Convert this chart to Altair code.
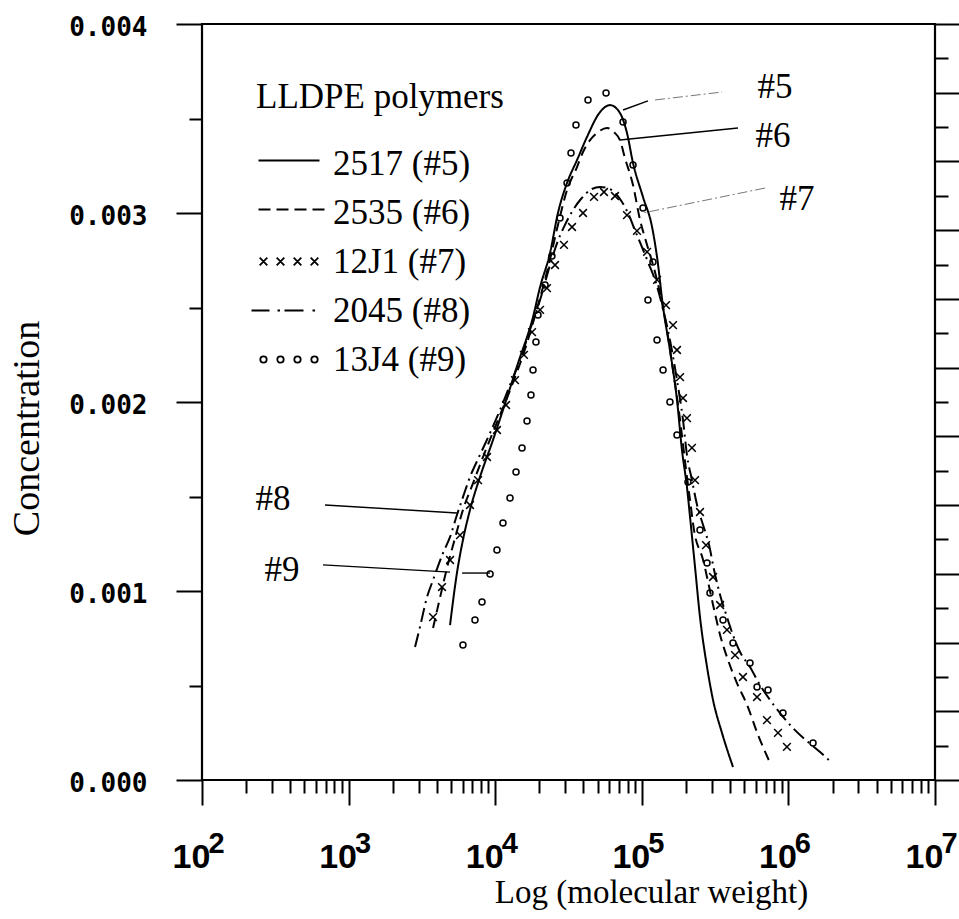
import altair as alt
import pandas as pd

# ---------------- data ----------------
# x values are log10(molecular weight); y values are concentration
series_names = ["2517 (#5)", "2535 (#6)", "12J1 (#7)", "2045 (#8)", "13J4 (#9)"]

s5_log = [3.692, 3.739, 3.780, 3.828, 3.896, 3.985, 4.053, 4.156, 4.258, 4.306,
          4.374, 4.428, 4.490, 4.558, 4.626, 4.715, 4.783, 4.851, 4.899, 4.940,
          5.008, 5.070, 5.104, 5.145, 5.192, 5.240, 5.274, 5.308, 5.329, 5.363,
          5.397, 5.445, 5.486, 5.547, 5.622]
s5_conc = [0.000820, 0.001095, 0.001270, 0.001429, 0.001603, 0.001799, 0.001958, 0.002206, 0.002450, 0.002608,
           0.002788, 0.003000, 0.003159, 0.003280, 0.003402, 0.003534, 0.003571, 0.003529, 0.003423, 0.003265,
           0.003085, 0.002926, 0.002767, 0.002503, 0.002275, 0.002011, 0.001746, 0.001550, 0.001392, 0.001127,
           0.000862, 0.000598, 0.000423, 0.000249, 0.000069]

s6_log = [3.576, 3.623, 3.671, 3.726, 3.780, 3.849, 3.930, 4.019, 4.115, 4.217,
          4.292, 4.360, 4.428, 4.490, 4.558, 4.599, 4.647, 4.694, 4.763, 4.817,
          4.851, 4.885, 4.940, 4.988, 5.036, 5.090, 5.158, 5.213, 5.261, 5.302,
          5.329, 5.356, 5.418, 5.479, 5.534, 5.588, 5.649, 5.718, 5.793, 5.875]
s6_conc = [0.000804, 0.000963, 0.001122, 0.001280, 0.001429, 0.001571, 0.001735, 0.001905, 0.002090, 0.002312,
           0.002513, 0.002709, 0.002937, 0.003122, 0.003243, 0.003323, 0.003386, 0.003423, 0.003450, 0.003423,
           0.003386, 0.003291, 0.003148, 0.002963, 0.002831, 0.002688, 0.002444, 0.002169, 0.001905, 0.001640,
           0.001481, 0.001323, 0.001164, 0.000952, 0.000767, 0.000635, 0.000513, 0.000397, 0.000238, 0.000090]

s7_log = [3.576, 3.637, 3.692, 3.760, 3.828, 3.883, 3.944, 4.012, 4.074, 4.135,
          4.196, 4.251, 4.306, 4.353, 4.408, 4.469, 4.524, 4.599, 4.674, 4.742,
          4.817, 4.899, 4.967, 5.036, 5.104, 5.165, 5.213, 5.240, 5.261, 5.281,
          5.308, 5.342, 5.363, 5.397, 5.438, 5.486, 5.534, 5.581, 5.636, 5.690,
          5.786, 5.854, 5.929, 5.990]
s7_conc = [0.000862, 0.001021, 0.001164, 0.001296, 0.001455, 0.001587, 0.001709, 0.001852, 0.001984, 0.002116,
           0.002249, 0.002370, 0.002487, 0.002603, 0.002725, 0.002831, 0.002926, 0.003000, 0.003085, 0.003111,
           0.003090, 0.002989, 0.002905, 0.002794, 0.002646, 0.002513, 0.002407, 0.002275, 0.002132, 0.002021,
           0.001915, 0.001757, 0.001587, 0.001418, 0.001243, 0.001074, 0.000926, 0.000794, 0.000661, 0.000545,
           0.000439, 0.000317, 0.000249, 0.000175]

s8_log = [3.453, 3.487, 3.535, 3.576, 3.644, 3.692, 3.739, 3.780, 3.828, 3.896,
          3.965, 4.033, 4.101, 4.169, 4.237, 4.306, 4.374, 4.422, 4.476, 4.531,
          4.585, 4.660, 4.715, 4.769, 4.817, 4.865, 4.906, 4.947, 4.995, 5.042,
          5.090, 5.138, 5.192, 5.240, 5.281, 5.308, 5.342, 5.377, 5.418, 5.459,
          5.493, 5.534, 5.581, 5.622, 5.670, 5.738, 5.806, 5.875, 5.943, 6.031,
          6.134, 6.216, 6.297]
s8_conc = [0.000704, 0.000810, 0.000968, 0.001058, 0.001201, 0.001286, 0.001402, 0.001497, 0.001603, 0.001720,
           0.001836, 0.001958, 0.002090, 0.002222, 0.002381, 0.002540, 0.002725, 0.002841, 0.002937, 0.003016,
           0.003074, 0.003127, 0.003138, 0.003132, 0.003106, 0.003058, 0.003000, 0.002921, 0.002831, 0.002741,
           0.002646, 0.002513, 0.002328, 0.002116, 0.001905, 0.001720, 0.001587, 0.001455, 0.001349, 0.001243,
           0.001111, 0.000979, 0.000862, 0.000767, 0.000677, 0.000598, 0.000503, 0.000423, 0.000354, 0.000275,
           0.000201, 0.000148, 0.000090]

s9_log = [3.780, 3.862, 3.910, 3.965, 4.012, 4.053, 4.101, 4.142, 4.183, 4.217,
          4.244, 4.258, 4.278, 4.292, 4.340, 4.387, 4.442, 4.490, 4.517, 4.551,
          4.633, 4.756, 4.872, 4.940, 5.008, 5.076, 5.042, 5.104, 5.145, 5.192,
          5.240, 5.315, 5.397, 5.445, 5.465, 5.554, 5.622, 5.738, 5.786, 5.861,
          5.963, 6.168]
s9_conc = [0.000714, 0.000847, 0.000942, 0.001090, 0.001217, 0.001360, 0.001492, 0.001630, 0.001757, 0.001899,
           0.002037, 0.002169, 0.002317, 0.002460, 0.002619, 0.002772, 0.002974, 0.003159, 0.003317, 0.003466,
           0.003598, 0.003635, 0.003481, 0.003254, 0.003026, 0.002741, 0.002540, 0.002328, 0.002169, 0.002000,
           0.001825, 0.001577, 0.001323, 0.001148, 0.000989, 0.000847, 0.000725, 0.000619, 0.000492, 0.000476,
           0.000354, 0.000196]

# curve labels and their leader lines
ann_text = ["#5", "#6", "#7", "#8", "#9"]
ann_log = [5.909, 5.895, 6.059, 2.484, 2.546]
ann_conc = [0.003667, 0.003407, 0.003074, 0.001487, 0.001111]

lead_from_log = [4.872, 5.656, 2.839, 2.825, 3.965]
lead_from_conc = [0.003545, 0.003450, 0.001455, 0.001138, 0.001095]
lead_to_log = [5.042, 4.851, 3.739, 3.692, 3.774]
lead_to_conc = [0.003593, 0.003386, 0.001413, 0.001100, 0.001095]

faint_from_log = [5.090, 5.840]
faint_from_conc = [0.003598, 0.003132]
faint_to_log = [5.547, 5.008]
faint_to_conc = [0.003640, 0.003000]

x_major = [1e2, 1e3, 1e4, 1e5, 1e6, 1e7]
y_major = [0.0, 0.001, 0.002, 0.003, 0.004]
y_minor = [0.0005, 0.0015, 0.0025, 0.0035]

# ---------------- helpers ----------------
SERIF = "Liberation Serif, Times New Roman, serif"
NARROW = "Liberation Sans Narrow, Liberation Sans, Arial, sans-serif"
MONO = "DejaVu Sans Mono, monospace"


def frame(name, logs, concs):
    return pd.DataFrame({"series": name, "mw": [10 ** v for v in logs], "conc": concs})


x_minor = [m * d for d in x_major[:-1] for m in range(2, 10)]
right_vals = [k * 0.004 / 22 for k in range(23)]
right_long = right_vals[0::2]
right_short = right_vals[1::2]

xscale = alt.Scale(type="log", domain=[1e2, 1e7], nice=False)
yscale = alt.Scale(domain=[0, 0.004], nice=False, zero=False)

common_axis = dict(domain=False, grid=False, tickColor="black", labelColor="black",
                   labelFlush=False, labelOverlap=False, labelBound=False)

x_main_axis = alt.Axis(orient="bottom", values=x_major, tickSize=25, tickWidth=2,
                       labelExpr="'10'", labelFont=NARROW, labelFontWeight="bold",
                       labelFontSize=34, labelBaseline="alphabetic", labelAlign="center",
                       labelPadding=62, labelOffset=-11,
                       title="Log (molecular weight)", titleFont=SERIF, titleFontSize=33,
                       titleFontWeight="normal", titleColor="black", titleX=449, titleY=122,
                       titleAlign="center", titleBaseline="alphabetic", **common_axis)
x_minor_axis = alt.Axis(orient="bottom", values=x_minor, tickSize=13, tickWidth=2,
                        labels=False, title=None, **common_axis)
x_exp_axis = alt.Axis(orient="bottom", values=x_major, tickSize=25, tickOpacity=0,
                      labelExpr="'' + round(log(datum.value) / LN10)", labelFont=NARROW,
                      labelFontWeight="bold", labelFontSize=29, labelBaseline="alphabetic",
                      labelAlign="center", labelPadding=47, labelOffset=14, title=None,
                      **common_axis)

y_main_axis = alt.Axis(orient="left", values=y_major, format=".3f", tickSize=26, tickWidth=2,
                       labelFont=MONO, labelFontWeight="bold", labelFontSize=26,
                       labelPadding=29, labelBaseline="middle", labelOffset=3,
                       title="Concentration", titleFont=SERIF, titleFontSize=38,
                       titleFontWeight="normal", titleColor="black", titleAngle=270,
                       titleX=-164, titleY=404, titleAlign="center",
                       titleBaseline="alphabetic", **common_axis)
y_minor_axis = alt.Axis(orient="left", values=y_minor, tickSize=13, tickWidth=2,
                        labels=False, title=None, **common_axis)
y_right_short = alt.Axis(orient="right", values=right_short, tickSize=13, tickWidth=2,
                         labels=False, title=None, **common_axis)
y_right_long = alt.Axis(orient="right", values=right_long, tickSize=24, tickWidth=2,
                        labels=False, title=None, **common_axis)

# ---------------- layers ----------------
lines_df = pd.concat([frame("2517 (#5)", s5_log, s5_conc),
                      frame("2535 (#6)", s6_log, s6_conc),
                      frame("2045 (#8)", s8_log, s8_conc)])

line_layer = alt.Chart(lines_df).mark_line(color="black", strokeWidth=2,
                                           interpolate="monotone").encode(
    x=alt.X("mw:Q", scale=xscale, axis=x_main_axis),
    y=alt.Y("conc:Q", scale=yscale, axis=y_main_axis),
    strokeDash=alt.StrokeDash("series:N", legend=None,
                              scale=alt.Scale(domain=["2517 (#5)", "2535 (#6)", "2045 (#8)"],
                                              range=[[1, 0], [10, 6], [14, 5, 2, 5]])),
    detail="series:N",
)

CROSS = "M-1,-1L1,1M-1,1L1,-1"
cross_layer = alt.Chart(frame("12J1 (#7)", s7_log, s7_conc)).mark_point(
    shape=CROSS, size=60, filled=False, color="black", strokeWidth=1.5, opacity=1).encode(
    x=alt.X("mw:Q", scale=xscale, axis=x_minor_axis),
    y=alt.Y("conc:Q", scale=yscale, axis=y_minor_axis),
)

circle_layer = alt.Chart(frame("13J4 (#9)", s9_log, s9_conc)).mark_point(
    shape="circle", size=36, filled=False, color="black", strokeWidth=1.5, opacity=1).encode(
    x=alt.X("mw:Q", scale=xscale, axis=x_exp_axis),
    y=alt.Y("conc:Q", scale=yscale, axis=y_right_short),
)

ann_df = pd.DataFrame({"label": ann_text, "mw": [10 ** v for v in ann_log], "conc": ann_conc})
text_layer = alt.Chart(ann_df).mark_text(font=SERIF, fontSize=35, color="black",
                                          align="center", baseline="middle").encode(
    x=alt.X("mw:Q", scale=xscale, axis=None),
    y=alt.Y("conc:Q", scale=yscale, axis=y_right_long),
    text="label:N",
)

lead_df = pd.DataFrame({"x1": [10 ** v for v in lead_from_log], "y1": lead_from_conc,
                        "x2": [10 ** v for v in lead_to_log], "y2": lead_to_conc})
lead_layer = alt.Chart(lead_df).mark_rule(color="black", strokeWidth=1.4).encode(
    x=alt.X("x1:Q", scale=xscale, axis=None), x2="x2:Q",
    y=alt.Y("y1:Q", scale=yscale, axis=None), y2="y2:Q",
)

faint_df = pd.DataFrame({"x1": [10 ** v for v in faint_from_log], "y1": faint_from_conc,
                         "x2": [10 ** v for v in faint_to_log], "y2": faint_to_conc})
faint_layer = alt.Chart(faint_df).mark_rule(color="#777777", strokeWidth=1,
                                            strokeDash=[10, 3, 2, 3]).encode(
    x=alt.X("x1:Q", scale=xscale, axis=None), x2="x2:Q",
    y=alt.Y("y1:Q", scale=yscale, axis=None), y2="y2:Q",
)

# legend symbols (custom paths, 1 unit = 10 px)
def cross_at(cx, h=0.38):
    return f"M{cx-h},{-h}L{cx+h},{h}M{cx-h},{h}L{cx+h},{-h}"


def circle_at(cx, r=0.32):
    return f"M{cx+r},0A{r},{r} 0 1,1 {cx-r},0A{r},{r} 0 1,1 {cx+r},0"


legend_paths = [
    "M-1.5,-0.3L4.6,-0.3",
    "M-1.5,-0.3L-0.3,-0.3M0.3,-0.3L1.5,-0.3M2.1,-0.3L3.3,-0.3M3.9,-0.3L5.1,-0.3",
    "".join(cross_at(c) for c in [-1.0, 0.7, 2.4, 4.1]),
    "M-2.2,0L-0.4,0M0.4,0L0.65,0M1.1,0L3.0,0M3.9,0L4.15,0",
    "".join(circle_at(c) for c in [-1.0, 0.7, 2.4, 4.1]),
]

legend_layer = alt.Chart(alt.Data(values=[])).mark_point(
    filled=False, color="black", strokeWidth=1.8, opacity=1).encode(
    shape=alt.Shape("series:N",
                    scale=alt.Scale(domain=series_names, range=legend_paths),
                    legend=alt.Legend(orient="none", legendX=54, legendY=56,
                                      title="LLDPE polymers", titleFont=SERIF,
                                      titleFontSize=35, titleFontWeight="normal",
                                      titleColor="black", titlePadding=31, titleLimit=600,
                                      labelFont=SERIF, labelFontSize=35, labelColor="black",
                                      labelOffset=42, labelLimit=600,
                                      symbolSize=400, symbolStrokeWidth=1.8,
                                      symbolStrokeColor="black",
                                      symbolFillColor="transparent",
                                      rowPadding=13, padding=0)),
)

chart = alt.layer(
    line_layer, cross_layer, circle_layer, text_layer, lead_layer, faint_layer, legend_layer
).resolve_axis(x="independent", y="independent").properties(
    width=733, height=756,
    autosize=alt.AutoSizeParams(type="none"),
    padding={"left": 202, "top": 24, "right": 24, "bottom": 139},
    background="white",
).configure_view(stroke="black", strokeWidth=2.2)

chart.save("out.html", embed_options={"renderer": "svg", "actions": False})
